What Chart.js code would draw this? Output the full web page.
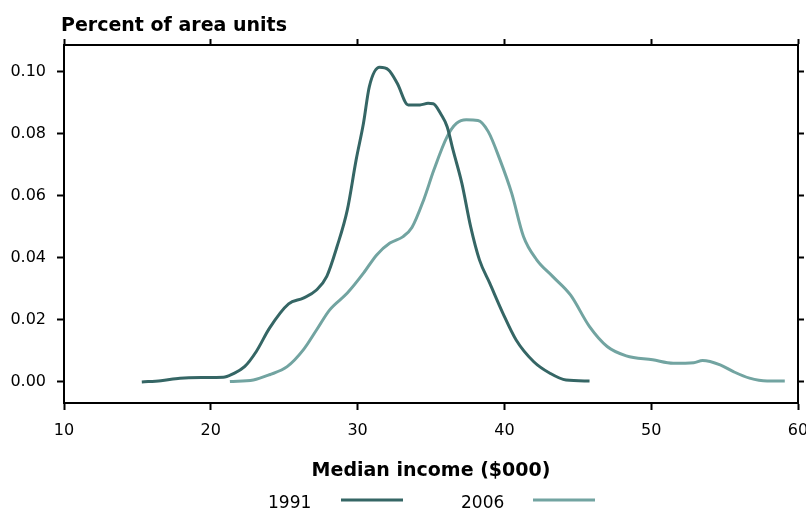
<!DOCTYPE html>
<html>
<head>
<meta charset="utf-8">
<script src="https://cdn.jsdelivr.net/npm/chart.js@4/dist/chart.umd.min.js"></script>
<style>
  html, body { margin: 0; padding: 0; background: #fff; }
  canvas { display: block; }
</style>
</head>
<body>
<canvas id="chart" width="806" height="510"></canvas>
<script>
// median income ($000) and share of area units
const income1991 = [15.3, 16.6, 17.9, 19.5, 20.85, 21.5, 22.3, 23.1, 24.0, 25.3, 26.3, 27.2, 27.9, 28.6, 29.3, 29.9, 30.4, 30.8, 31.5, 32.1, 32.7, 33.45, 34.25, 34.8, 35.15, 35.7, 36.1, 36.5, 37.1, 37.7, 38.3, 39.0, 39.9, 40.8, 42.0, 43.1, 44.2, 45.8];
const share1991 = [0.0000, 0.0004, 0.0012, 0.0014, 0.0015, 0.0026, 0.0049, 0.0098, 0.0173, 0.0251, 0.0270, 0.0296, 0.0340, 0.0436, 0.0554, 0.0715, 0.0833, 0.0951, 0.1013, 0.1005, 0.0962, 0.0892, 0.0892, 0.0897, 0.0896, 0.0860, 0.0822, 0.0747, 0.0640, 0.0500, 0.0393, 0.0318, 0.0221, 0.0135, 0.0065, 0.0028, 0.0006, 0.0003];

const income2006 = [21.3, 22.9, 24.0, 25.2, 26.3, 27.2, 28.1, 29.3, 30.4, 31.3, 32.2, 33.1, 33.7, 34.5, 35.2, 36.1, 36.75, 37.4, 38.2, 38.9, 39.7, 40.5, 41.3, 42.2, 43.3, 44.5, 45.8, 47.0, 48.3, 50.1, 51.5, 52.9, 53.5, 54.7, 55.6, 56.7, 57.9, 59.1];
const share2006 = [0.0001, 0.0006, 0.0023, 0.0049, 0.0103, 0.0167, 0.0232, 0.0286, 0.0350, 0.0409, 0.0447, 0.0468, 0.0497, 0.0586, 0.0683, 0.0790, 0.0833, 0.0844, 0.0842, 0.0806, 0.0715, 0.0607, 0.0468, 0.0393, 0.0339, 0.0280, 0.0178, 0.0114, 0.0084, 0.0071, 0.0060, 0.0062, 0.0069, 0.0055, 0.0033, 0.0012, 0.0003, 0.0003];

const seriesNames = ['1991', '2006'];
const xTicks = [10, 20, 30, 40, 50, 60];
const yTicks = [0.00, 0.02, 0.04, 0.06, 0.08, 0.10];

const dark = '#356665';
const light = '#72a4a1';
const font = 'DejaVu Sans';

const toPoints = (xs, ys) => xs.map((x, i) => ({ x: x, y: ys[i] }));
const setTicks = (vals) => (scale) => { scale.ticks = vals.map(v => ({ value: v })); };
// fixed axis boxes so the plot area lands where the original's does
const fixHeight = (h) => (s) => { s.height = h; s.paddingLeft = 0; s.paddingRight = 0; };
const fixWidth = (w) => (s) => { s.width = w; s.paddingTop = 0; s.paddingBottom = 0; };

const frame = {
  border: { display: true, color: '#000', width: 2 },
  grid: { drawOnChartArea: false, drawTicks: true, tickLength: 7, tickWidth: 2, tickColor: '#000' },
};

// top-left axis caption and the legend under the x-axis title
const extras = {
  id: 'extras',
  afterDraw(chart) {
    const ctx = chart.ctx;
    ctx.save();
    ctx.fillStyle = '#000';
    ctx.textBaseline = 'alphabetic';
    ctx.textAlign = 'left';
    ctx.font = 'bold 19px "' + font + '"';
    ctx.fillText('Percent of area units', 61, 31);

    ctx.font = '17px "' + font + '"';
    const items = [
      { text: seriesNames[0], tx: 268, x1: 341, x2: 403, color: dark },
      { text: seriesNames[1], tx: 461, x1: 533, x2: 595, color: light },
    ];
    items.forEach(it => {
      ctx.fillStyle = '#000';
      ctx.fillText(it.text, it.tx, 508);
      ctx.strokeStyle = it.color;
      ctx.lineWidth = 3;
      ctx.beginPath();
      ctx.moveTo(it.x1, 500);
      ctx.lineTo(it.x2, 500);
      ctx.stroke();
    });
    ctx.restore();
  }
};

new Chart(document.getElementById('chart'), {
  type: 'scatter',
  data: {
    datasets: [
      {
        label: seriesNames[0],
        data: toPoints(income1991, share1991),
        showLine: true,
        borderColor: dark,
        borderWidth: 3,
        pointRadius: 0,
        cubicInterpolationMode: 'monotone',
      },
      {
        label: seriesNames[1],
        data: toPoints(income2006, share2006),
        showLine: true,
        borderColor: light,
        borderWidth: 3,
        pointRadius: 0,
        cubicInterpolationMode: 'monotone',
      },
    ],
  },
  options: {
    responsive: false,
    animation: false,
    layout: { padding: 0 },
    plugins: {
      legend: { display: false },
      tooltip: { enabled: false },
      title: { display: false },
    },
    scales: {
      x: {
        type: 'linear',
        position: 'bottom',
        min: 10,
        max: 60,
        afterBuildTicks: setTicks(xTicks),
        afterFit: fixHeight(107),
        ...frame,
        ticks: { color: '#000', font: { family: font, size: 16 }, padding: 11, maxRotation: 0 },
        title: {
          display: true,
          text: 'Median income ($000)',
          color: '#000',
          font: { family: font, size: 19, weight: 'bold' },
          padding: { top: 0, bottom: 28 },
        },
      },
      x2: {
        type: 'linear',
        position: 'top',
        min: 10,
        max: 60,
        afterBuildTicks: setTicks(xTicks),
        afterFit: fixHeight(45),
        ...frame,
        grid: { ...frame.grid, tickLength: 6 },
        ticks: { display: false },
      },
      y: {
        type: 'linear',
        position: 'left',
        min: -0.0068,
        max: 0.1085,
        afterBuildTicks: setTicks(yTicks),
        afterFit: fixWidth(64),
        ...frame,
        ticks: {
          color: '#000',
          font: { family: font, size: 16 },
          padding: 11,
          callback: (v) => v.toFixed(2),
        },
      },
      y2: {
        type: 'linear',
        position: 'right',
        min: -0.0068,
        max: 0.1085,
        afterBuildTicks: setTicks(yTicks),
        afterFit: fixWidth(8),
        ...frame,
        grid: { ...frame.grid, tickLength: 6 },
        ticks: { display: false },
      },
    },
  },
  plugins: [extras],
});
</script>
</body>
</html>
